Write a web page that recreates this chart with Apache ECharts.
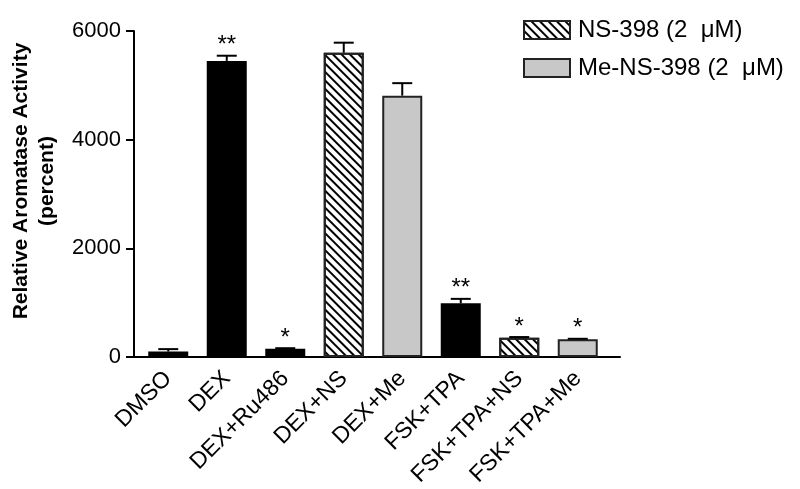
<!DOCTYPE html>
<html>
<head>
<meta charset="utf-8">
<script src="https://cdn.jsdelivr.net/npm/echarts@6/dist/echarts.min.js"></script>
<style>html,body{margin:0;padding:0;background:#fff}#c{width:800px;height:489px}</style>
</head>
<body>
<div id="c"></div>
<script>
var categories = ['DMSO', 'DEX', 'DEX+Ru486', 'DEX+NS', 'DEX+Me', 'FSK+TPA', 'FSK+TPA+NS', 'FSK+TPA+Me'];
var blackValues = [100, 5450, 150, null, null, 990, null, null];
var nsValues = [null, null, null, 5600, null, null, 355, null];
var meValues = [null, null, null, null, 4810, null, null, 325];
var errors = [45, 95, 12, 185, 230, 80, 12, 10];
var stars = ['', '**', '*', '', '', '**', '*', '*'];
var yTicks = [0, 2000, 4000, 6000];
var legendNames = ['NS-398 (2  μM)', 'Me-NS-398 (2  μM)'];

var FONT = 'Liberation Sans, Arial, sans-serif';
var chart = echarts.init(document.getElementById('c'), null, {renderer: 'canvas'});

var means = categories.map(function (c, i) {
  return blackValues[i] != null ? blackValues[i] : (nsValues[i] != null ? nsValues[i] : meValues[i]);
});
var errData = categories.map(function (c, i) { return [i, means[i], errors[i], stars[i]]; });

var hatch = {
  symbol: 'rect', symbolSize: 1, dashArrayX: [1, 0], dashArrayY: [1.2, 3.2],
  rotation: Math.PI / 4, color: '#000'
};

var option = {
  animation: false,
  backgroundColor: '#fff',
  legend: {
    orient: 'vertical', left: 523, top: 18, padding: 0, itemWidth: 46, itemHeight: 18, itemGap: 14,
    icon: 'rect',
    data: legendNames,
    textStyle: {fontFamily: FONT, fontSize: 24, color: '#000', padding: [0, 0, 0, 3]}
  },
  grid: [
    {left: 128, right: 180, top: 31, bottom: 132},
    {left: 139, right: 193, top: 31, bottom: 132}
  ],
  xAxis: [
    {gridIndex: 0, type: 'value', min: 0, max: 1, axisLine: {show: true, onZero: false, lineStyle: {color: '#000', width: 2}},
     axisTick: {show: false}, axisLabel: {show: false}, splitLine: {show: false}},
    {gridIndex: 1, type: 'category', data: categories, axisLine: {show: false}, axisTick: {show: false},
     axisLabel: {rotate: 45, fontFamily: FONT, fontSize: 23, color: '#000', margin: 18, interval: 0}}
  ],
  yAxis: [
    {gridIndex: 0, type: 'value', min: 0, max: 6000, interval: 2000,
     axisLine: {show: true, lineStyle: {color: '#000', width: 2}},
     axisTick: {show: true, length: 8, lineStyle: {color: '#000', width: 2}},
     axisLabel: {fontFamily: FONT, fontSize: 22, color: '#000', margin: 13,
       formatter: function (v) { return yTicks.indexOf(v) >= 0 ? String(v) : ''; }},
     splitLine: {show: false},
     name: 'Relative Aromatase Activity\n(percent)', nameLocation: 'middle', nameRotate: 90, nameGap: 74,
     nameTextStyle: {fontFamily: FONT, fontSize: 21, fontWeight: 'bold', color: '#000', lineHeight: 26, padding: [0, 0, 0, 26]}},
    {gridIndex: 1, type: 'value', min: 0, max: 6000, show: false}
  ],
  series: [
    {name: 'black', type: 'bar', xAxisIndex: 1, yAxisIndex: 1, data: blackValues, barWidth: 40, barGap: '-100%',
     itemStyle: {color: '#000', borderColor: '#000', borderWidth: 0}},
    {name: legendNames[0], type: 'bar', xAxisIndex: 1, yAxisIndex: 1, data: nsValues, barWidth: 40, barGap: '-100%',
     itemStyle: {color: '#fff', borderColor: '#222', borderWidth: 2, decal: hatch}},
    {name: legendNames[1], type: 'bar', xAxisIndex: 1, yAxisIndex: 1, data: meValues, barWidth: 40, barGap: '-100%',
     itemStyle: {color: '#c8c8c8', borderColor: '#222', borderWidth: 2}},
    {name: 'err', type: 'custom', xAxisIndex: 1, yAxisIndex: 1, data: errData, z: 10,
     renderItem: function (params, api) {
       var x = api.value(0), m = api.value(1), e = api.value(2);
       var s = errData[params.dataIndex][3];
       var p0 = api.coord([x, m]);
       var p1 = api.coord([x, m + e]);
       var children = [
         {type: 'line', shape: {x1: p0[0], y1: p0[1], x2: p1[0], y2: p1[1]}, style: {stroke: '#000', lineWidth: 2}},
         {type: 'line', shape: {x1: p1[0] - 10, y1: p1[1], x2: p1[0] + 10, y2: p1[1]}, style: {stroke: '#000', lineWidth: 2}}
       ];
       if (s) {
         children.push({type: 'text', x: p1[0], y: p1[1] + 2,
           style: {text: s, fontFamily: FONT, fontSize: 24, fill: '#000', align: 'center', verticalAlign: 'bottom'}});
       }
       return {type: 'group', children: children};
     }}
  ]
};
chart.setOption(option);
</script>
</body>
</html>
